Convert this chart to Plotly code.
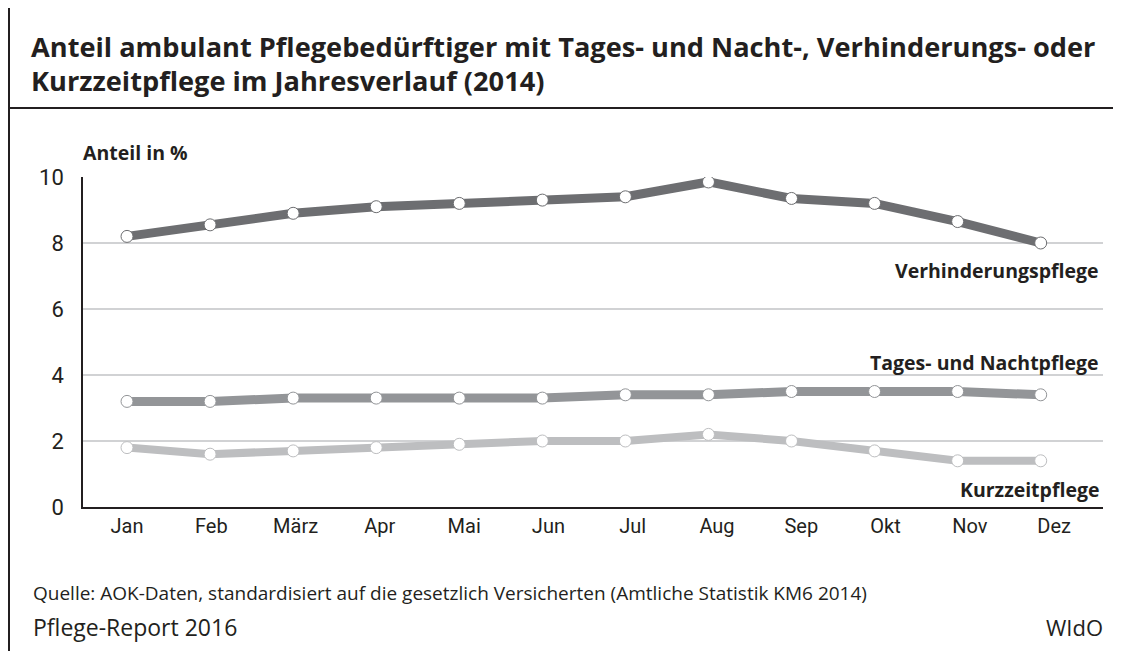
import plotly.graph_objects as go

months = ["Jan", "Feb", "März", "Apr", "Mai", "Jun", "Jul", "Aug", "Sep", "Okt", "Nov", "Dez"]
verhinderung = [8.2, 8.55, 8.9, 9.1, 9.2, 9.3, 9.4, 9.85, 9.35, 9.2, 8.65, 8.0]
tages_nacht = [3.2, 3.2, 3.3, 3.3, 3.3, 3.3, 3.4, 3.4, 3.5, 3.5, 3.5, 3.4]
kurzzeit = [1.8, 1.6, 1.7, 1.8, 1.9, 2.0, 2.0, 2.2, 2.0, 1.7, 1.4, 1.4]
y_ticks = [0, 2, 4, 6, 8, 10]

FONT = "Roboto"
TFONT = "Open Sans"
OFF = 8  # page body margin
W, H = 1121 - OFF, 651 - OFF
# target page-pixel geometry of plot area
PL, PR, PT, PB = 83, 1103, 177, 507
L, T = PL - OFF, PT - OFF
R, B = W - (PR - OFF), H - (PB - OFF)
PW, PH = PR - PL, PB - PT

def px(x):
    return (x - PL) / PW

def py(y):
    return (PB - y) / PH

idx = list(range(len(months)))
series = [
    ("Kurzzeitpflege", kurzzeit, "#bdbec0", 8),
    ("Tages- und Nachtpflege", tages_nacht, "#939598", 9),
    ("Verhinderungspflege", verhinderung, "#6d6e71", 9),
]

fig = go.Figure()
for name, vals, col, w in series:
    fig.add_trace(go.Scatter(
        x=idx, y=vals, name=name, mode="lines+markers",
        line=dict(color=col, width=w),
        marker=dict(size=12, color="white", line=dict(color=col, width=1)),
        xaxis="x", yaxis="y", showlegend=False, hoverinfo="skip",
    ))
fig.add_trace(go.Scatter(x=months, y=[None] * len(months), xaxis="x2", yaxis="y",
                         showlegend=False, hoverinfo="skip", mode="markers"))

fig.update_layout(
    width=W, height=H,
    margin=dict(l=L, r=R, t=T, b=B, pad=0),
    paper_bgcolor="white", plot_bgcolor="white",
    font=dict(family=FONT, color="#231f20"),
    xaxis=dict(range=[-0.53, 11.75], showticklabels=False, showgrid=False, zeroline=False,
               showline=True, linecolor="#231f20", linewidth=1.5, ticks=""),
    xaxis2=dict(type="category", overlaying="x", side="bottom", range=[-0.522, 11.58],
                showgrid=False, zeroline=False, showline=False, ticks="",
                tickfont=dict(size=20, family=FONT, color="#231f20"), anchor="y",
                ticklabelstandoff=5),
    yaxis=dict(range=[0, 10], tickvals=y_ticks, showgrid=True, gridcolor="#d1d2d4", gridwidth=1.5,
               zeroline=False, showline=True, linecolor="#231f20", linewidth=1.5, ticks="",
               tickfont=dict(size=22, family=FONT, color="#231f20"), ticklabelstandoff=13),
)

line_col = "#231f20"
shapes = [
    dict(type="line", xref="paper", yref="paper", x0=px(8), x1=px(1130), y0=py(6), y1=py(6),
         line=dict(color=line_col, width=2)),
    dict(type="line", xref="paper", yref="paper", x0=px(8), x1=px(1130), y0=py(108), y1=py(108),
         line=dict(color=line_col, width=2)),
    dict(type="line", xref="paper", yref="paper", x0=px(9), x1=px(9), y0=py(5), y1=py(660),
         line=dict(color=line_col, width=2)),
]
fig.update_layout(shapes=shapes)

ann = [
    dict(text="<b>Anteil ambulant Pflegebedürftiger mit Tages- und Nacht-, Verhinderungs- oder</b>",
         x=px(29), y=py(47), xanchor="left", yanchor="middle", font=dict(size=27.2, family=TFONT)),
    dict(text="<b>Kurzzeitpflege im Jahresverlauf (2014)</b>",
         x=px(29), y=py(81), xanchor="left", yanchor="middle", font=dict(size=27.2, family=TFONT)),
    dict(text="<b>Anteil in %</b>", x=px(81), y=py(152), xanchor="left", yanchor="middle",
         font=dict(size=19.5, family=TFONT)),
    dict(text="<b>Verhinderungspflege</b>", x=px(1101), y=py(270), xanchor="right", yanchor="middle",
         font=dict(size=19.5, family=TFONT)),
    dict(text="<b>Tages- und Nachtpflege</b>", x=px(1101), y=py(362), xanchor="right", yanchor="middle",
         font=dict(size=19.5, family=TFONT)),
    dict(text="<b>Kurzzeitpflege</b>", x=px(1101), y=py(489), xanchor="right", yanchor="middle",
         font=dict(size=19.5, family=TFONT)),
    dict(text="Quelle: AOK-Daten, standardisiert auf die gesetzlich Versicherten (Amtliche Statistik KM6 2014)",
         x=px(31), y=py(593), xanchor="left", yanchor="middle", font=dict(size=19, family=TFONT)),
    dict(text="Pflege-Report 2016", x=px(31), y=py(627), xanchor="left", yanchor="middle",
         font=dict(size=23, family=TFONT)),
    dict(text="WIdO", x=px(1105), y=py(627), xanchor="right", yanchor="middle",
         font=dict(size=22, family=TFONT)),
]
for a in ann:
    a.update(xref="paper", yref="paper", showarrow=False)
    a["font"].setdefault("family", FONT)
    a["font"].setdefault("color", "#231f20")
fig.update_layout(annotations=ann)

fig.write_html("out.html")
